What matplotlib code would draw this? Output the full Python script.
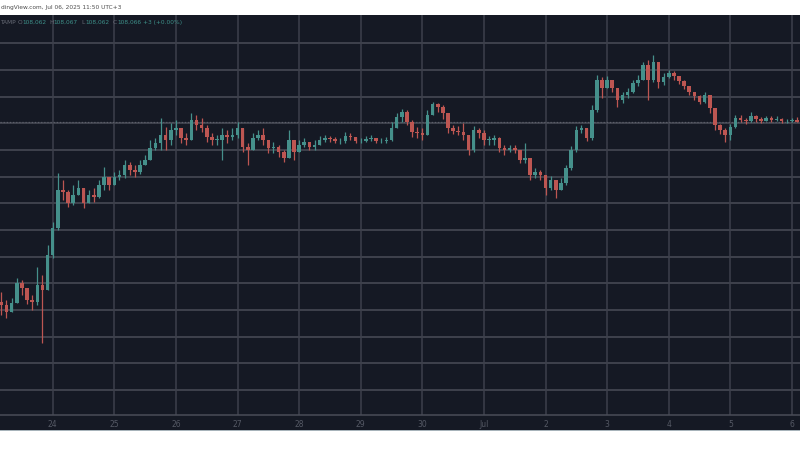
import numpy as np
import pandas as pd
import matplotlib.pyplot as plt
from matplotlib.patches import Rectangle


# ==================================================
# 1. Data (2-hour candles)
# ==================================================

start_time = "2025-06-23 04:00"
first_open = 101300

closes = [
    101190, 100920, 101260, 102010, 101820, 101380, 101300, 101940, 101750, 103060,
    104080, 105500, 105420, 105010, 105310, 105580, 105010, 105310, 105240, 105690,
    105990, 105690, 105990, 106060, 106440, 106250, 106180, 106440, 106620, 107080,
    107260, 107560, 107380, 107750, 107820, 107450, 107380, 108120, 107940, 107820,
    107490, 107380, 107380, 107560, 107490, 107560, 107820, 107110, 107000, 107450,
    107560, 107380, 107080, 107110, 106920, 106700, 107380, 106920, 107190, 107300,
    107110, 107190, 107380, 107450, 107410, 107340, 107340, 107520, 107490, 107340,
    107340, 107410, 107450, 107340, 107340, 107380, 107820, 108240, 108420, 108050,
    107680, 107640, 107560, 108310, 108720, 108610, 108390, 107820, 107710, 107680,
    107560, 107000, 107750, 107640, 107380, 107380, 107450, 107080, 107000, 107080,
    107000, 106620, 106700, 106060, 106180, 106060, 105580, 105880, 105500, 105760,
    106320, 107000, 107750, 107820, 107450, 108500, 109620, 109320, 109620, 109320,
    108880, 109060, 109180, 109510, 109620, 110190, 109620, 110300, 109550, 109740,
    109890, 109780, 109590, 109400, 109180, 109020, 108800, 109060, 108580, 107940,
    107750, 107560, 107860, 108200, 108120, 108090, 108280, 108160, 108090, 108200,
    108120, 108160, 108090, 108090, 108120, 108066,
]

highs = [
    101680, 101380, 101450, 102200, 102130, 101820, 101560, 102610, 102310, 103440,
    104300, 106140, 105880, 105500, 105690, 105880, 105580, 105500, 105580, 105880,
    106360, 105990, 106180, 106250, 106620, 106550, 106440, 106620, 106810, 107380,
    107450, 108200, 107860, 108010, 108120, 107750, 107640, 108390, 108310, 108200,
    107940, 107640, 107560, 107820, 107750, 107820, 108050, 107750, 107260, 107640,
    107750, 107820, 107380, 107300, 107190, 107000, 107750, 107260, 107380, 107450,
    107300, 107380, 107520, 107560, 107520, 107490, 107450, 107680, 107640, 107490,
    107450, 107520, 107560, 107450, 107450, 107490, 108050, 108390, 108540, 108500,
    108120, 107860, 107820, 108500, 108800, 108760, 108690, 108390, 107940, 107900,
    108010, 107560, 107900, 107820, 107750, 107520, 107560, 107490, 107190, 107190,
    107190, 107000, 107260, 106700, 106320, 106250, 106060, 106020, 105880, 105950,
    106440, 107150, 107900, 107940, 107820, 108690, 109810, 109740, 109780, 109550,
    109320, 109180, 109320, 109620, 109810, 110300, 110380, 110560, 110190, 109890,
    110000, 109960, 109780, 109620, 109400, 109180, 109060, 109180, 109060, 108580,
    107980, 107820, 107980, 108310, 108310, 108200, 108420, 108310, 108240, 108280,
    108280, 108280, 108200, 108160, 108200, 108240,
]

lows = [
    100810, 100700, 100920, 101380, 101560, 101230, 101000, 101190, 99760, 101750,
    102950, 104000, 105130, 104860, 104940, 105310, 104820, 105050, 105050, 105200,
    105500, 105500, 105690, 105880, 105950, 106060, 105990, 106100, 106440, 106620,
    107000, 107000, 107000, 107190, 107560, 107260, 107190, 107560, 107750, 107680,
    107300, 107190, 107190, 106620, 107260, 107380, 107450, 106920, 106440, 107000,
    107380, 107190, 106890, 106890, 106740, 106550, 106700, 106620, 106920, 107110,
    107000, 107000, 107190, 107300, 107300, 107260, 107230, 107260, 107380, 107260,
    107260, 107300, 107340, 107260, 107260, 107260, 107340, 107820, 108050, 107940,
    107490, 107450, 107380, 107560, 108310, 108420, 108160, 107640, 107600, 107560,
    107380, 106810, 106920, 107450, 107190, 107190, 107190, 106920, 106810, 106920,
    106890, 106510, 106510, 105880, 105950, 105880, 105310, 105500, 105200, 105580,
    105690, 106250, 106920, 107640, 107340, 107380, 108420, 108950, 109320, 109180,
    108610, 108760, 108950, 109140, 109400, 109620, 108880, 109550, 109320, 109440,
    109700, 109620, 109480, 109290, 109060, 108880, 108720, 108760, 108390, 107750,
    107600, 107300, 107380, 107820, 108050, 107970, 108050, 108050, 108010, 108090,
    108050, 108090, 108010, 108010, 108050, 108050,
]

day_ticks = pd.date_range("2025-06-24", "2025-07-06", freq="D")
day_labels = ["24", "25", "26", "27", "28", "29", "30", "Jul", "2", "3", "4", "5", "6"]
price_grid = np.arange(98000, 111001, 1000)

header_text = "dingView.com, Jul 06, 2025 11:50 UTC+3"
legend_parts = [
    ("TAMP", "label"), ("O", "label"), ("108,062", "value"),
    ("H", "label"), ("108,067", "value"),
    ("L", "label"), ("108,062", "value"),
    ("C", "label"), ("108,066", "value"),
    ("+3 (+0.00%)", "value"),
]


# ==================================================
# 2. Build the candle table
# ==================================================

df = pd.DataFrame({"close": closes, "high": highs, "low": lows})
df["time"] = pd.date_range(start_time, periods=len(df), freq="2h")
df["open"] = df["close"].shift(1).fillna(first_open)
df["high"] = df[["high", "open", "close"]].max(axis=1)
df["low"] = df[["low", "open", "close"]].min(axis=1)

up = df["close"] >= df["open"]


# ==================================================
# 3. Colours
# ==================================================

bg = "#151924"
grid_h = "#4a4d57"
grid_v = "#3d404c"
up_color = "#45908b"
down_color = "#bd5652"


# ==================================================
# 4. Figure
# ==================================================

W, H = 800, 450
fig = plt.figure(figsize=(8, 4.5), dpi=100)
fig.patch.set_facecolor("white")

# dark strip under the axes (time scale area), kept behind the axes
fig.patches.append(Rectangle((0, (H - 430) / H), 1, 15 / H,
                             transform=fig.transFigure,
                             facecolor=bg, edgecolor="none", zorder=-2))
fig.patches.append(Rectangle((0, (H - 431) / H), 1, 1.2 / H,
                             transform=fig.transFigure,
                             facecolor="#a7b3ba", edgecolor="none", zorder=-2))

ax = fig.add_axes([0, (H - 415) / H, 1, 400 / H])
ax.set_facecolor(bg)

x0 = pd.Timestamp("2025-06-24") - pd.Timedelta(days=0.8555)
x1 = pd.Timestamp("2025-06-24") + pd.Timedelta(days=12.131)
ax.set_xlim(x0, x1)
ax.set_ylim(97062, 112062)

for p in price_grid:
    ax.axhline(p, color=grid_h, lw=1.1, zorder=1)
for d in day_ticks:
    ax.axvline(d, color=grid_v, lw=1.1, zorder=1)

# last price line
ax.axhline(df["close"].iloc[-1], color="#5b5e69", lw=0.9, ls=(0, (1, 1.5)), zorder=2)

# wicks
ax.vlines(df.loc[up, "time"], df.loc[up, "low"], df.loc[up, "high"],
          color=up_color, lw=0.9, zorder=3)
ax.vlines(df.loc[~up, "time"], df.loc[~up, "low"], df.loc[~up, "high"],
          color=down_color, lw=0.9, zorder=3)

# bodies
body_w = pd.Timedelta(hours=1.4)
body_h = (df["close"] - df["open"]).abs().clip(lower=15)
body_b = df[["open", "close"]].min(axis=1)
ax.bar(df.loc[up, "time"], body_h[up], bottom=body_b[up], width=body_w,
       color=up_color, edgecolor="none", zorder=4)
ax.bar(df.loc[~up, "time"], body_h[~up], bottom=body_b[~up], width=body_w,
       color=down_color, edgecolor="none", zorder=4)

ax.set_xticks(day_ticks)
ax.set_xticklabels(day_labels)
ax.set_yticks([])
ax.tick_params(axis="x", length=0, pad=3.5, labelsize=5.5, colors="#555965")
for side in ["top", "left", "right"]:
    ax.spines[side].set_visible(False)
ax.spines["bottom"].set_color(grid_h)
ax.spines["bottom"].set_linewidth(1.1)


# ==================================================
# 5. Header texts
# ==================================================

fig.text(1 / W, 1 - 7.5 / H, header_text, fontsize=4.2, color="#4d4d4d",
         ha="left", va="center")

legend_x = [0, 18, 22, 49, 53, 81, 85, 113, 117, 143]
for (txt, kind), x in zip(legend_parts, legend_x):
    fig.text(x / W, 1 - 22.5 / H, txt, fontsize=4.2,
             color="#3d8f88" if kind == "value" else "#676b76",
             ha="left", va="center")

fig.savefig("out.png", dpi=100, facecolor=fig.get_facecolor())
